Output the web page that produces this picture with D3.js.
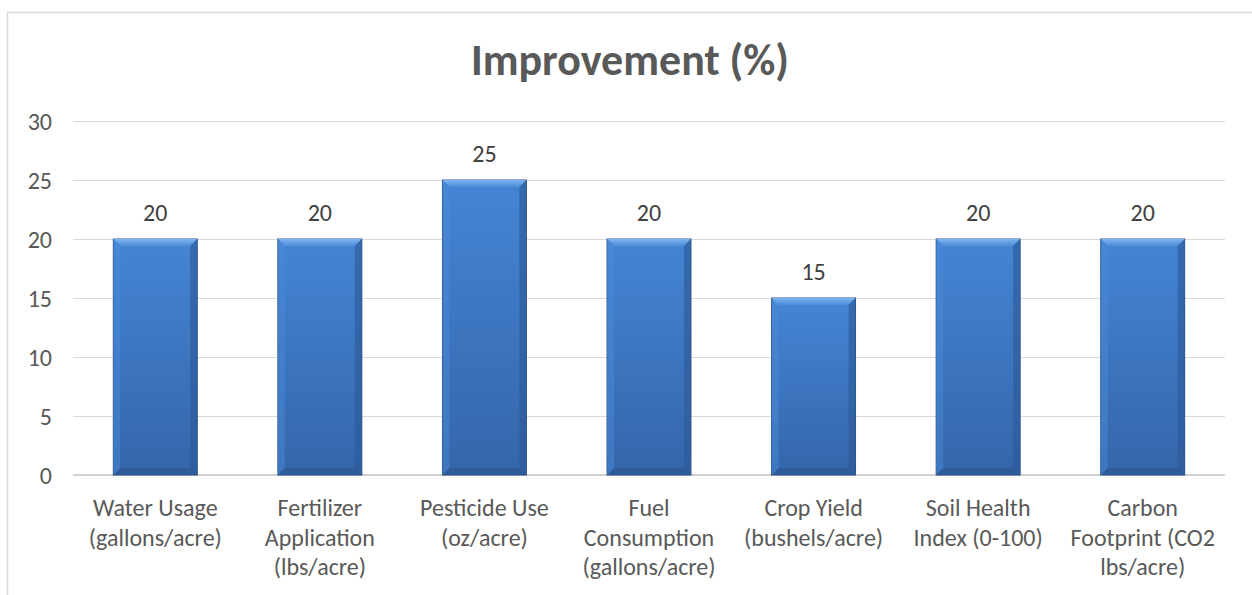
<!DOCTYPE html>
<html>
<head>
<meta charset="utf-8">
<script src="https://cdn.jsdelivr.net/npm/d3@7"></script>
<style>
  body { margin: 0; background: #fff; }
  svg { display: block; }
  text { font-family: Carlito, Calibri, Lato, "Open Sans", sans-serif; }
</style>
</head>
<body>
<div id="chart"></div>
<script>
// chart data
var categories = [
    ["Water Usage", "(gallons/acre)"],
    ["Fertilizer", "Application", "(lbs/acre)"],
    ["Pesticide Use", "(oz/acre)"],
    ["Fuel", "Consumption", "(gallons/acre)"],
    ["Crop Yield", "(bushels/acre)"],
    ["Soil Health", "Index (0-100)"],
    ["Carbon", "Footprint (CO2", "lbs/acre)"]
];
var improvement = [20, 20, 25, 20, 15, 20, 20];
var yTicks = [0, 5, 10, 15, 20, 25, 30];
var chartTitle = "Improvement (%)";

var svgWidth = 1252;
var svgHeight = 595;

var margin = { top: 121, right: 27, bottom: 120, left: 73 };
var chartWidth = svgWidth - margin.left - margin.right;
var chartHeight = svgHeight - margin.top - margin.bottom;

var svg = d3.select("#chart")
    .append("svg")
    .attr("width", svgWidth)
    .attr("height", svgHeight);

// chart area border (runs off the right / bottom edge)
svg.append("rect")
    .attr("x", 7.5)
    .attr("y", 12.5)
    .attr("width", svgWidth + 10)
    .attr("height", svgHeight + 10)
    .attr("fill", "none")
    .attr("stroke", "#d9d9d9")
    .attr("stroke-width", 1.5);

// gradients for bars
var defs = svg.append("defs");
var grad = defs.append("linearGradient")
    .attr("id", "barGrad")
    .attr("x1", 0).attr("y1", 0).attr("x2", 0).attr("y2", 1);
grad.append("stop").attr("offset", "0%").attr("stop-color", "#4585d4");
grad.append("stop").attr("offset", "100%").attr("stop-color", "#3465aa");

var topGrad = defs.append("linearGradient")
    .attr("id", "topGrad")
    .attr("x1", 0).attr("y1", 0).attr("x2", 0).attr("y2", 1);
topGrad.append("stop").attr("offset", "0%").attr("stop-color", "#7db4f0");
topGrad.append("stop").attr("offset", "100%").attr("stop-color", "#4d8cd8");

var chartGroup = svg.append("g")
    .attr("transform", `translate(${margin.left}, ${margin.top})`);

// scales
var xScale = d3.scaleBand()
    .domain(d3.range(categories.length))
    .range([0, chartWidth])
    .paddingInner(0.49)
    .paddingOuter(0.245);

var yScale = d3.scaleLinear()
    .domain([0, 30])
    .range([chartHeight, 0]);

// y axis with gridlines
var leftAxis = d3.axisLeft(yScale)
    .tickValues(yTicks)
    .tickSize(-chartWidth)
    .tickPadding(21);

var yAxis = chartGroup.append("g").call(leftAxis);
yAxis.select(".domain").remove();
yAxis.selectAll("line").attr("stroke", "#d9d9d9").attr("stroke-width", 1.2);
yAxis.selectAll("text")
    .attr("fill", "#595959")
    .style("font-size", "24px")
    .attr("dy", "0.34em");

// baseline
chartGroup.append("line")
    .attr("x1", 0).attr("x2", chartWidth)
    .attr("y1", yScale(0)).attr("y2", yScale(0))
    .attr("stroke", "#c9c9c9")
    .attr("stroke-width", 1.6);

// bars
var bw = xScale.bandwidth();
var bars = chartGroup.selectAll(".bar")
    .data(improvement)
    .enter()
    .append("g")
    .attr("class", "bar")
    .attr("transform", (d, i) => `translate(${xScale(i)}, ${yScale(d)})`);

bars.append("rect")
    .attr("width", bw)
    .attr("height", d => chartHeight - yScale(d))
    .attr("fill", "url(#barGrad)")
    .attr("stroke", "#2a5287")
    .attr("stroke-width", 1);

var bev = 7;
// top bevel
bars.append("path")
    .attr("d", `M0,0 L${bw},0 L${bw - bev},${bev} L${bev},${bev} Z`)
    .attr("fill", "url(#topGrad)");
// left bevel
bars.append("path")
    .attr("d", d => {
        var h = chartHeight - yScale(d);
        return `M0,0 L${bev},${bev} L${bev},${h - bev} L0,${h} Z`;
    })
    .attr("fill", "#4a8ad8")
    .attr("opacity", 0.5);
// right bevel
bars.append("path")
    .attr("d", d => {
        var h = chartHeight - yScale(d);
        return `M${bw},0 L${bw - bev},${bev} L${bw - bev},${h - bev} L${bw},${h} Z`;
    })
    .attr("fill", "#2d5a99")
    .attr("opacity", 0.65);
// bottom bevel
bars.append("path")
    .attr("d", d => {
        var h = chartHeight - yScale(d);
        return `M0,${h} L${bev},${h - bev} L${bw - bev},${h - bev} L${bw},${h} Z`;
    })
    .attr("fill", "#2b568f")
    .attr("opacity", 0.65);

// data labels
chartGroup.selectAll(".label")
    .data(improvement)
    .enter()
    .append("text")
    .attr("class", "label")
    .attr("x", (d, i) => xScale(i) + bw / 2)
    .attr("y", d => yScale(d) - 18)
    .attr("text-anchor", "middle")
    .attr("fill", "#404040")
    .style("font-size", "24px")
    .text(d => d);

// category labels
var catLabels = chartGroup.selectAll(".cat")
    .data(categories)
    .enter()
    .append("text")
    .attr("class", "cat")
    .attr("text-anchor", "middle")
    .attr("fill", "#595959")
    .style("font-size", "24px")
    .attr("transform", (d, i) => `translate(${xScale(i) + bw / 2}, ${chartHeight + 41})`);

catLabels.selectAll("tspan")
    .data(d => d)
    .enter()
    .append("tspan")
    .attr("x", 0)
    .attr("dy", (d, i) => i === 0 ? 0 : 29.5)
    .text(d => d);

// title
svg.append("text")
    .attr("x", 630)
    .attr("y", 75)
    .attr("text-anchor", "middle")
    .attr("fill", "#595959")
    .style("font-size", "44px")
    .style("font-weight", "bold")
    .text(chartTitle);
</script>
</body>
</html>
